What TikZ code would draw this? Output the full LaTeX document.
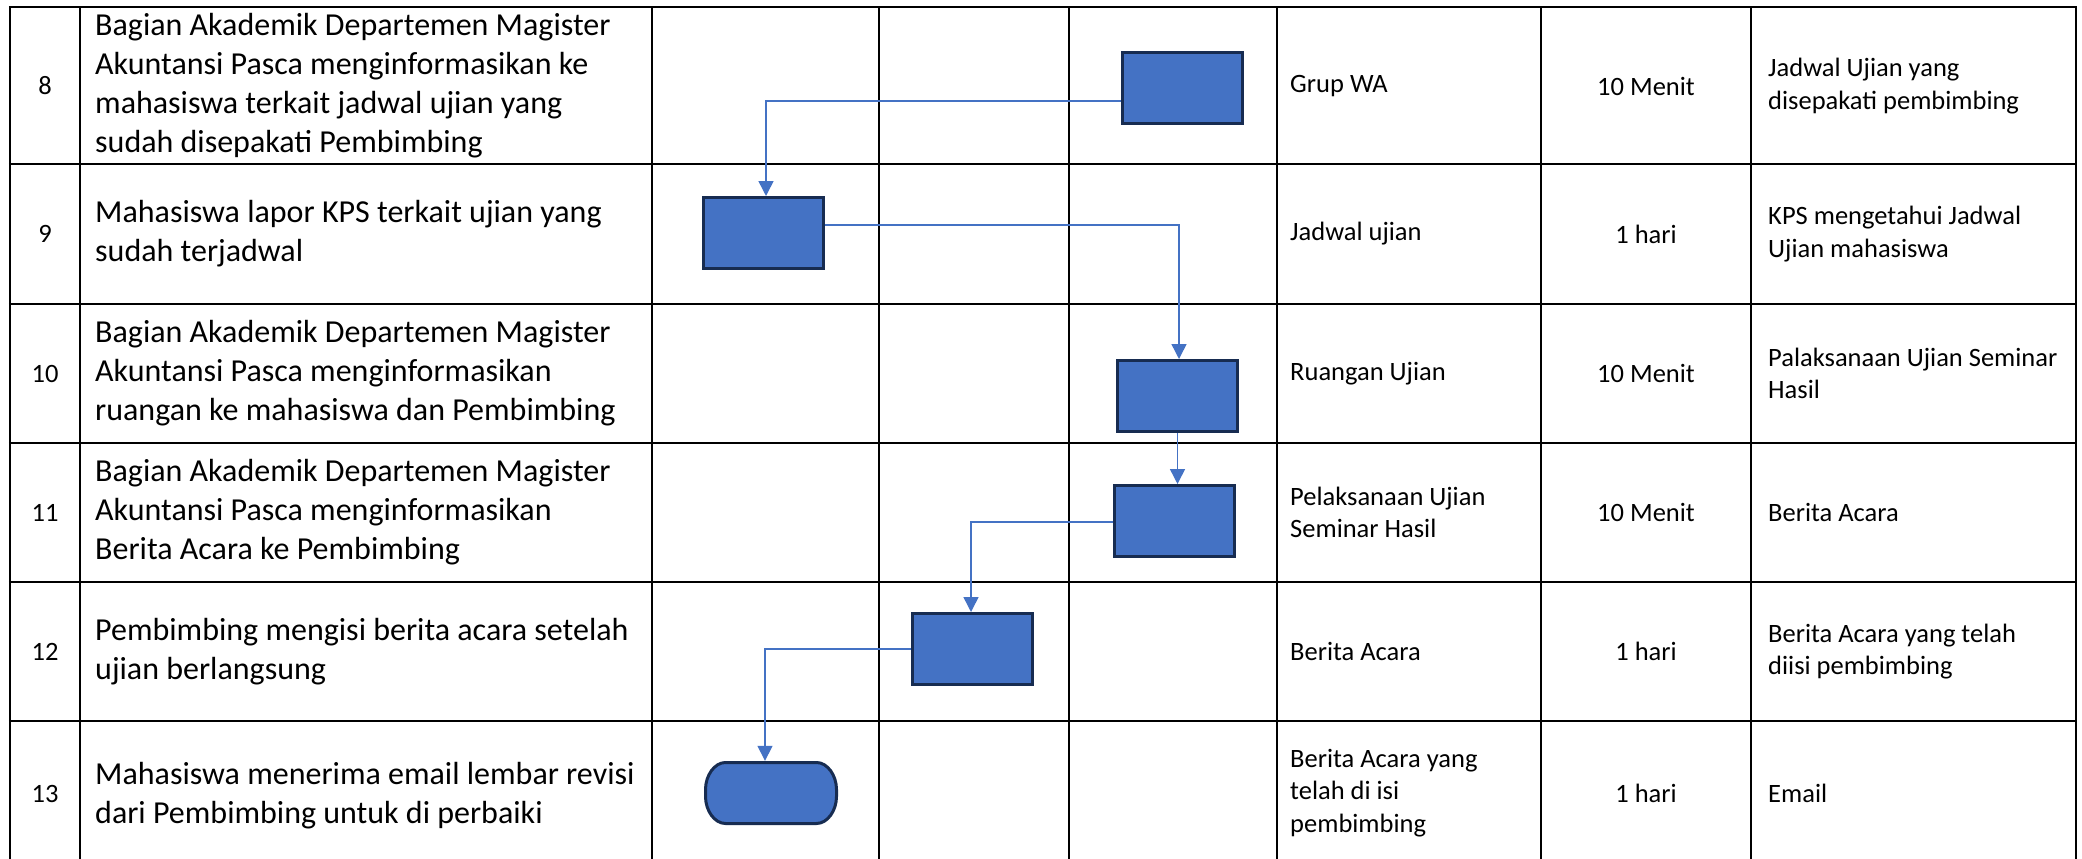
\documentclass[tikz,border=0pt]{standalone}
\usepackage{fontspec}
\setmainfont{Carlito}
\usetikzlibrary{arrows.meta,calc}
\definecolor{pblue}{HTML}{4472C4}
\definecolor{navy}{HTML}{172C51}
\begin{document}
\begin{tikzpicture}[x=1pt,y=-1pt,
  grid/.style={line width=2.5pt, black},
  proc/.style={draw=navy, line width=3pt, fill=pblue, minimum width=120pt, minimum height=71pt, inner sep=0pt},
  termshape/.style={draw=navy, line width=3pt, fill=pblue},
  termbox/.style={draw=none, inner sep=0pt, minimum width=134pt, minimum height=64pt},
  conn/.style={draw=pblue, line width=1.5pt, -{Triangle[width=15pt,length=15pt]}},
  desc/.style={anchor=west, align=left, inner sep=0pt, font=\fontsize{32}{39}\selectfont},
  numtxt/.style={align=center, inner sep=0pt, font=\fontsize{26.5}{32.3}\selectfont},
  lefttxt/.style={anchor=west, align=left, inner sep=0pt, font=\fontsize{26.5}{32.3}\selectfont},
  midtxt/.style={align=center, inner sep=0pt, font=\fontsize{26.5}{32.3}\selectfont}]
\useasboundingbox (0,0) rectangle (2082,859);
\fill[white] (0,0) rectangle (2082,859);
% table grid
\foreach \y in {7,164,304,443,582,721} \draw[grid] (8.75,\y) -- (2077.25,\y);
\foreach \x in {10,80,652,879,1069,1277,1541,1751,2076} \draw[grid] (\x,7) -- (\x,859);
% column text positions
\def\cnum{45}\def\cdesc{95}\def\cmed{1290}\def\ctime{1646}\def\cout{1768}
% row 8
\node[numtxt] (n8) at (\cnum,86) {8};
\node[desc] (d8) at (\cdesc,86) {Bagian Akademik Departemen Magister\\Akuntansi Pasca menginformasikan ke\\mahasiswa terkait jadwal ujian yang\\sudah disepakati Pembimbing};
\node[lefttxt] (m8) at (\cmed,86) {Grup WA};
\node[midtxt] (t8) at (\ctime,86) {10 Menit};
\node[lefttxt] (o8) at (\cout,86) {Jadwal Ujian yang\\disepakati pembimbing};
% row 9
\node[numtxt] (n9) at (\cnum,234) {9};
\node[desc] (d9) at (\cdesc,234) {Mahasiswa lapor KPS terkait ujian yang\\sudah terjadwal};
\node[lefttxt] (m9) at (\cmed,234) {Jadwal ujian};
\node[midtxt] (t9) at (\ctime,234) {1 hari};
\node[lefttxt] (o9) at (\cout,234) {KPS mengetahui Jadwal\\Ujian mahasiswa};
% row 10
\node[numtxt] (n10) at (\cnum,373.5) {10};
\node[desc] (d10) at (\cdesc,373.5) {Bagian Akademik Departemen Magister\\Akuntansi Pasca menginformasikan\\ruangan ke mahasiswa dan Pembimbing};
\node[lefttxt] (m10) at (\cmed,373.5) {Ruangan Ujian};
\node[midtxt] (t10) at (\ctime,373.5) {10 Menit};
\node[lefttxt] (o10) at (\cout,373.5) {Palaksanaan Ujian Seminar\\Hasil};
% row 11
\node[numtxt] (n11) at (\cnum,512.5) {11};
\node[desc] (d11) at (\cdesc,512.5) {Bagian Akademik Departemen Magister\\Akuntansi Pasca menginformasikan\\Berita Acara ke Pembimbing};
\node[lefttxt] (m11) at (\cmed,512.5) {Pelaksanaan Ujian\\Seminar Hasil};
\node[midtxt] (t11) at (\ctime,512.5) {10 Menit};
\node[lefttxt] (o11) at (\cout,512.5) {Berita Acara};
% row 12
\node[numtxt] (n12) at (\cnum,651.5) {12};
\node[desc] (d12) at (\cdesc,651.5) {Pembimbing mengisi berita acara setelah\\ujian berlangsung};
\node[lefttxt] (m12) at (\cmed,651.5) {Berita Acara};
\node[midtxt] (t12) at (\ctime,651.5) {1 hari};
\node[lefttxt] (o12) at (\cout,651.5) {Berita Acara yang telah\\diisi pembimbing};
% row 13
\node[numtxt] (n13) at (\cnum,794) {13};
\node[desc] (d13) at (\cdesc,796) {Mahasiswa menerima email lembar revisi\\dari Pembimbing untuk di perbaiki};
\node[lefttxt] (m13) at (\cmed,793) {Berita Acara yang\\telah di isi\\pembimbing};
\node[midtxt] (t13) at (\ctime,793) {1 hari};
\node[lefttxt] (o13) at (\cout,793) {Email};
% flow shapes
\node[proc] (r8) at (1182.5,88) {};
\node[proc] (r9) at (763.5,233) {};
\node[proc] (r10) at (1177.5,396) {};
\node[proc] (r11) at (1174.5,521) {};
\node[proc] (r12) at (972.5,649) {};
% terminator (elliptical ends)
\path[termshape] (725.5,762.5) -- (816.5,762.5)
  .. controls (827.5,762.5) and (836.5,775.4) .. (836.5,789.5) -- (836.5,796.5)
  .. controls (836.5,810.6) and (827.5,823.5) .. (816.5,823.5) -- (725.5,823.5)
  .. controls (714.5,823.5) and (705.5,810.6) .. (705.5,796.5) -- (705.5,789.5)
  .. controls (705.5,775.4) and (714.5,762.5) .. (725.5,762.5) -- cycle;
\node[termbox] (r13) at (771,793) {};
% connectors
\draw[conn] ([yshift=-13pt]r8.west) -| ([xshift=2.5pt]r9.north);
\draw[conn] ([yshift=8pt]r9.east) -| ([xshift=1.5pt]r10.north);
\draw[conn] (r10.south) -- (r10.south |- r11.north);
\draw[conn] ([yshift=-1pt]r11.west) -| ([xshift=-1.5pt]r12.north);
\draw[conn] (r12.west) -| ([xshift=-6pt]r13.north);
\end{tikzpicture}
\end{document}
